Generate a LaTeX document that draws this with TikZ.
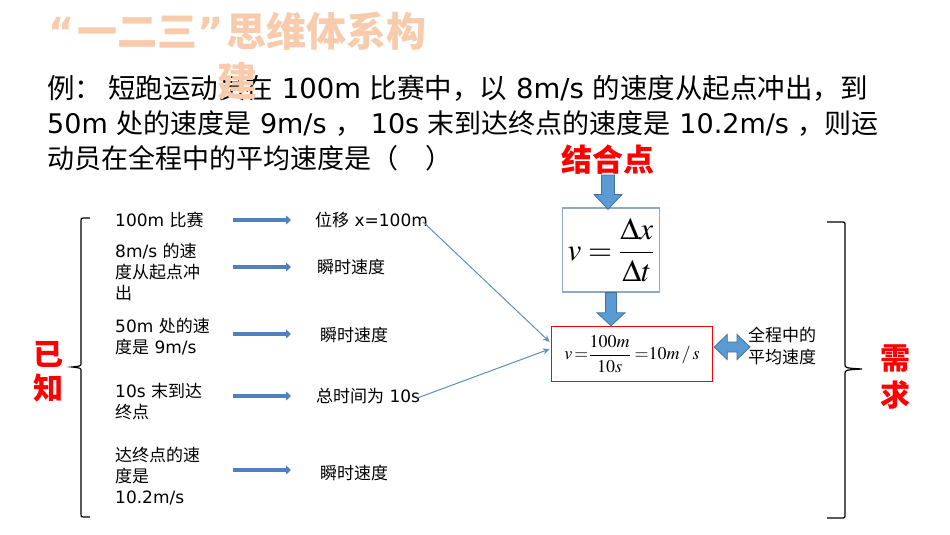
\documentclass[tikz,border=0pt]{standalone}
\usepackage{mathptmx}
\usepackage[no-math]{fontspec}
\setmainfont{DejaVu Sans}
\newfontfamily\cjk{Noto Sans CJK SC}
\newcommand{\C}[1]{{\cjk #1}}
\usetikzlibrary{arrows.meta,calc}
\definecolor{titlec}{HTML}{F8CBAD}
\definecolor{arrowblue}{HTML}{4F81BD}
\definecolor{linkblue}{HTML}{5B8FC8}
\definecolor{blockblue}{HTML}{5B9BD5}
\definecolor{blockedge}{HTML}{41719C}
\definecolor{boxgray}{HTML}{8EA9C1}
\definecolor{redc}{HTML}{FF0000}
\tikzset{
 qtext/.style={font=\fontsize{27}{32}\selectfont, inner sep=0, anchor=west},
 ltext/.style={font=\fontsize{17}{21}\selectfont, inner sep=0, anchor=west, align=left},
 redlbl/.style={font=\cjk\bfseries\fontsize{30}{34}\selectfont, text=redc, align=center, inner sep=0},
 flow/.style={arrowblue, line width=3.5pt, -{Triangle[length=5pt,width=9pt]}},
 link/.style={linkblue, line width=1pt, -{Stealth[length=7pt,width=6pt]}},
 blockarrow/.style={fill=blockblue, draw=blockedge, line width=0.8pt},
 bracestyle/.style={line width=1.2pt, black},
}
\begin{document}
\begin{tikzpicture}[x=1pt,y=-1pt]
\useasboundingbox (0,0) rectangle (950,535);
% question
\node[qtext, font=\fontsize{27.5}{32}\selectfont] (q1) at (47,88) {\C{例：}\hspace{6pt}\C{短跑运动员在} 100m \C{比赛中，以} 8m/s \C{的速度从起点冲出，到}};
\node[qtext] (q2) at (47,124) {50m \C{处的速度是} 9m/s \C{，} 10s \C{末到达终点的速度是} 10.2m/s \C{，则运}};
\node[qtext] (q3) at (47,158) {\C{动员在全程中的平均速度是（\quad）}};
% title
\node[font=\bfseries\fontsize{40}{50}\selectfont, text=titlec, align=center, inner sep=0] (title) at (237,56)
  {\makebox[29pt][l]{“}\C{一二三}\makebox[29pt][l]{”}\C{思维体系构}\\\C{建}};
% left column
\node[ltext] (l1) at (115,220) {100m \C{比赛}};
\node[ltext] (l2) at (115,272) {8m/s \C{的速}\\\C{度从起点冲}\\\C{出}};
\node[ltext] (l3) at (115,337) {50m \C{处的速}\\\C{度是} 9m/s};
\node[ltext] (l4) at (115,402) {10s \C{末到达}\\\C{终点}};
\node[ltext] (l5) at (115,476) {\C{达终点的速}\\\C{度是}\\10.2m/s};
% right column
\node[ltext] (r1) at (315,220) {\C{位移} x=100m};
\node[ltext] (r2) at (317,267) {\C{瞬时速度}};
\node[ltext] (r3) at (320,335) {\C{瞬时速度}};
\node[ltext] (r4) at (316,396) {\C{总时间为} 10s};
\node[ltext] (r5) at (320,473) {\C{瞬时速度}};
% flow arrows
\foreach \i/\yy in {1/220,2/267,3/334,4/396,5/470}{
  \coordinate (fs\i) at (233,\yy);
  \coordinate (fe\i) at (291,\yy);
  \draw[flow] (fs\i) -- (fe\i);
}
% labels
\node[redlbl] (known) at (48,372) {已\\知};
\node[redlbl, font=\cjk\bfseries\fontsize{30}{37}\selectfont] (need) at (895,377) {需\\求};
\node[redlbl, font=\cjk\bfseries\fontsize{31}{34}\selectfont] (jhd) at (608,160) {结合点};
% formula box
\node[draw=boxgray, line width=1.2pt, minimum width=97pt, minimum height=84pt, inner sep=0] (fb) at (611,250)
  {\fontsize{31}{33}\selectfont $\displaystyle v =\frac{\Delta x}{\Delta t}$};
% result box
\node[draw=redc, line width=1.5pt, minimum width=161pt, minimum height=55pt, inner sep=0] (res) at (632,354)
  {\fontsize{18}{20}\selectfont $\displaystyle v\,{=}\frac{100m}{10s}\;{=}10m\,/\,s$};
% average text
\node[ltext, font=\cjk\fontsize{17}{22}\selectfont] (avg) at (748,346) {全程中的\\平均速度};
% links
\draw[link] ($(r1.east)+(-5,2)$) -- ($(res.west)+(-1,-12)$);
\draw[link] ($(r4.east)+(-3,2)$) -- ($(res.west)+(-1,-5)$);
% block arrows
\filldraw[blockarrow] let \p1=(jhd.south), \p2=(fb.north) in
  (\x1-6.5pt,\y1) -- (\x1+6.5pt,\y1) -- (\x1+6.5pt,\y2+13pt) -- (\x1+14pt,\y2+13pt)
   -- (\x1,\y2-2pt) -- (\x1-14pt,\y2+13pt) -- (\x1-6.5pt,\y2+13pt) -- cycle;
\filldraw[blockarrow] let \p1=(fb.south), \p2=(res.north) in
  (\x1-5.5pt,\y1) -- (\x1+5.5pt,\y1) -- (\x1+5.5pt,\y2+13pt) -- (\x1+14pt,\y2+13pt)
   -- (\x1,\y2) -- (\x1-14pt,\y2+13pt) -- (\x1-5.5pt,\y2+13pt) -- cycle;
\filldraw[blockarrow] let \p1=($(res.east)+(1,-7)$), \p2=(avg.west) in
  (\x1,\y1) -- (\x1+13pt,\y1+12.5pt) -- (\x1+13pt,\y1+5pt) -- (\x2-11pt,\y1+5pt)
   -- (\x2-11pt,\y1+12.5pt) -- (\x2+2pt,\y1) -- (\x2-11pt,\y1-12.5pt) -- (\x2-11pt,\y1-5pt)
   -- (\x1+13pt,\y1-5pt) -- (\x1+13pt,\y1-12.5pt) -- cycle;
% braces
\draw[bracestyle] (90,218) -- (84,218) .. controls (81,218) .. (81,221) -- (81,363)
  .. controls (81,366) .. (72,367) .. controls (81,368) .. (81,371) -- (81,514)
  .. controls (81,517) .. (84,517) -- (90,517);
\draw[bracestyle] (827,222) -- (841,222) .. controls (845,222) .. (845,226) -- (845,364)
  .. controls (845,368) .. (862,369) .. controls (845,370) .. (845,374) -- (845,514)
  .. controls (845,518) .. (841,518) -- (827,518);
\end{tikzpicture}
\end{document}
